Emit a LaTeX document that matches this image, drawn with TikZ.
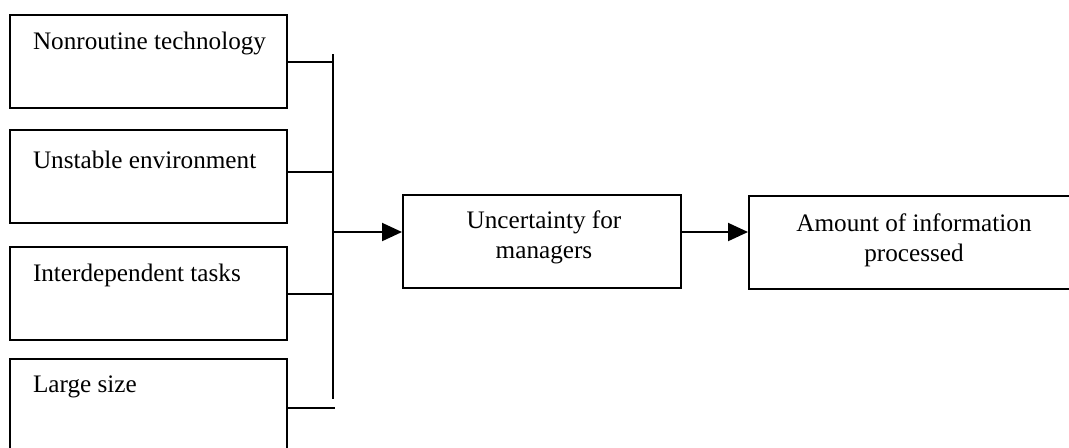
\documentclass[tikz,border=0pt]{standalone}
\usepackage{fontspec}
\setmainfont{Liberation Serif}
\usetikzlibrary{arrows.meta}
\begin{document}
\begin{tikzpicture}[x=0.5pt,y=-0.5pt,
  line width=1pt,
  box/.style={draw, rectangle, inner sep=0pt, minimum height=46.5pt},
  factorbox/.style={box, minimum width=138.5pt},
  label/.style={font=\fontsize{12.6}{15}\selectfont, inner sep=0pt},
  flow/.style={-{Triangle[length=10pt,width=9pt]}}]
  \useasboundingbox (0,0) rectangle (1069,447);
  \clip (0,0) rectangle (1069,447);

  % four causes on the left
  \node[factorbox] (f1) at (148.5,61.5) {};
  \node[factorbox] (f2) at (148.5,176.5) {};
  \node[factorbox] (f3) at (148.5,293.5) {};
  \node[factorbox] (f4) at (148.5,405.5) {};
  \node[label, anchor=west] (t1) at (32,43) {Nonroutine technology};
  \node[label, anchor=west] (t2) at (32,160) {Unstable environment};
  \node[label, anchor=west] (t3) at (32,275) {Interdependent tasks};
  \node[label, anchor=west] (t4) at (32,387) {Large size};

  % collecting bus
  \coordinate (bustop) at (333,54);
  \coordinate (busbot) at (333,399);
  \coordinate (busout) at (333,232);
  \coordinate (f4end) at (335,408);
  \draw (bustop) -- (busbot);
  \draw (f1.east) -- (f1.east -| bustop);
  \draw ([yshift=2.5pt]f2.east) -- ([yshift=2.5pt]f2.east -| bustop);
  \draw (f3.east) -- (f3.east -| bustop);
  \draw (f4.east |- f4end) -- (f4end);

  % middle and result boxes
  \node[box, minimum width=139pt] (unc) at (542,241.5) {};
  \node[label, align=center] (unct) at (544,237) {Uncertainty for\\managers};
  \node[box, minimum width=163pt] (info) at (912,242) {};
  \node[label, align=center] (infot) at (914,240) {Amount of information\\processed};

  \draw[flow] (busout) -- (busout -| unc.west);
  \draw[flow] (unc.east |- busout) -- (info.west |- busout);
\end{tikzpicture}
\end{document}
